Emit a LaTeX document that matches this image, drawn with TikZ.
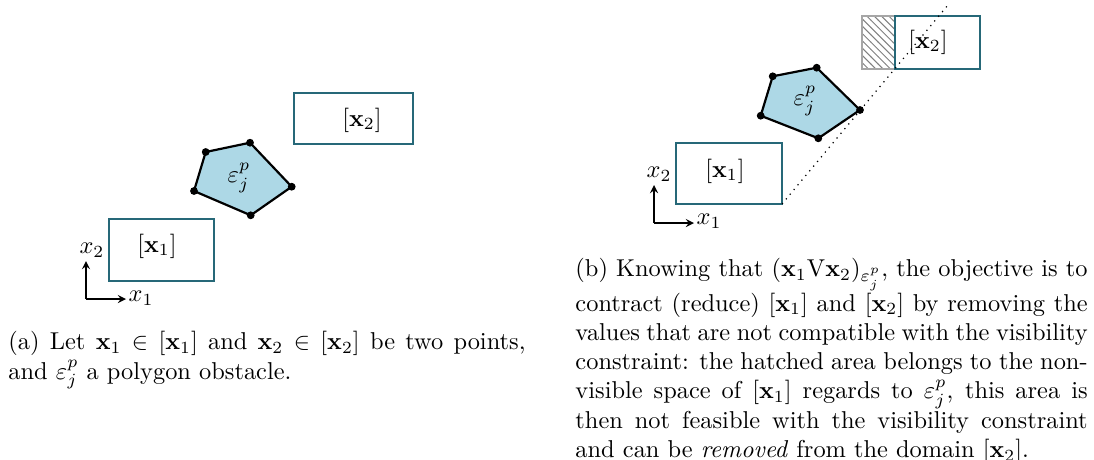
\documentclass[tikz,border=0pt]{standalone}
\usetikzlibrary{patterns}
\definecolor{boxteal}{RGB}{38,104,120}
\definecolor{obst}{RGB}{173,216,230}
\begin{document}
\begin{tikzpicture}[x=0.41pt,y=-0.41pt,
  ibox/.style={draw=boxteal,line width=1.1pt},
  poly/.style={draw=black,line width=0.9pt,fill=obst,line join=round},
  vtx/.style={circle,fill=black,inner sep=0pt,minimum size=3.2pt},
  axis/.style={-stealth,line width=0.5pt},
  captext/.style={anchor=north west,inner sep=0pt,align=justify,font=\normalsize}]
\useasboundingbox (0,0) rectangle (1094,459);
% ---------- panel (a) ----------
\draw[ibox] (109,219) rectangle (214,281);
\node (a1) at (157,246) {$[\mathbf{x}_1]$};
\draw[ibox] (294,93) rectangle (413,144);
\node (a2) at (362,120) {$[\mathbf{x}_2]$};
\coordinate (pa1) at (205.7,152);
\coordinate (pa2) at (250,142.7);
\coordinate (pa3) at (291.7,186.7);
\coordinate (pa4) at (250.7,215.3);
\coordinate (pa5) at (194,191);
\draw[poly] (pa1) -- (pa2) -- (pa3) -- (pa4) -- (pa5) -- cycle;
\foreach \p in {pa1,pa2,pa3,pa4,pa5} \node[vtx] at (\p) {};
\node (ea) at (239,178) {$\varepsilon_j^p$};
\coordinate (oa) at (86,299);
\coordinate (oax) at (126,299);
\coordinate (oay) at (86,261);
\draw[axis] (oa) -- (oay);
\draw[axis] (oa) -- (oax);
\node (xa2) at (92,250) {$x_2$};
\node (xa1) at (141,298) {$x_1$};
\node[captext,text width=212pt] (capa) at (8,331) {(a) Let $\mathbf{x}_1\in[\mathbf{x}_1]$ and $\mathbf{x}_2\in[\mathbf{x}_2]$ be two points, and $\varepsilon_j^p$ a polygon obstacle.};
% ---------- panel (b) ----------
\draw[pattern=north west lines,pattern color=gray,draw=gray!70,line width=0.6pt] (862,16) rectangle (895,69);
\draw[ibox] (676,143) rectangle (782,204);
\node (b1) at (725,171) {$[\mathbf{x}_1]$};
\draw[ibox] (895,16) rectangle (980,69);
\node (b2) at (928,42) {$[\mathbf{x}_2]$};
\coordinate (pb1) at (772.7,76.3);
\coordinate (pb2) at (816.7,67.7);
\coordinate (pb3) at (860,110);
\coordinate (pb4) at (818.3,138.3);
\coordinate (pb5) at (760.7,115.7);
\draw[poly] (pb1) -- (pb2) -- (pb3) -- (pb4) -- (pb5) -- cycle;
\foreach \p in {pb1,pb2,pb3,pb4,pb5} \node[vtx] at (\p) {};
\node (eb) at (805,101) {$\varepsilon_j^p$};
\coordinate (lb0) at (782,204);
\coordinate (lb1) at (948,5);
\draw[dotted,line width=0.5pt] (lb0) -- (lb1);
\coordinate (ob) at (654,223);
\coordinate (obx) at (694,223);
\coordinate (oby) at (654,185);
\draw[axis] (ob) -- (oby);
\draw[axis] (ob) -- (obx);
\node (xb2) at (659,174) {$x_2$};
\node (xb1) at (709,221) {$x_1$};
\node[captext,text width=210pt] (capb) at (575,258) {(b) Knowing that $(\mathbf{x}_1\mathrm{V}\mathbf{x}_2)_{\varepsilon_j^p}$, the objective is to contract (reduce) $[\mathbf{x}_1]$ and $[\mathbf{x}_2]$ by removing the values that are not compatible with the visibility constraint: the hatched area belongs to the non-visible space of $[\mathbf{x}_1]$ regards to $\varepsilon_j^p$, this area is then not feasible with the visibility constraint and can be \emph{removed} from the domain $[\mathbf{x}_2]$.};
\end{tikzpicture}
\end{document}
